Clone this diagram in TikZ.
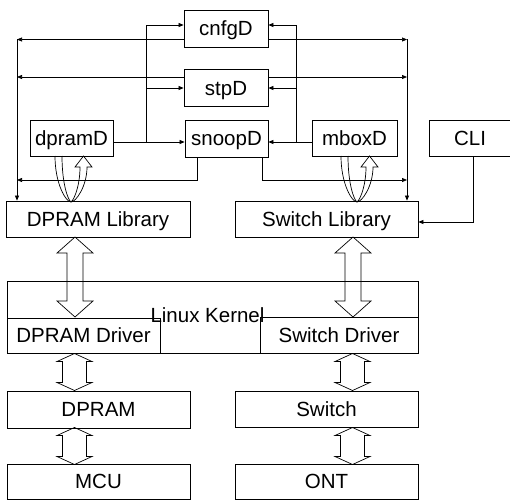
\documentclass[tikz,border=0pt]{standalone}
\usepackage{fontspec}
\setmainfont{Liberation Sans}
\usetikzlibrary{arrows.meta}
\tikzset{
  box/.style={draw, line width=0.8pt, inner sep=0pt, minimum height=36pt,
    text height=14.7pt, text depth=0pt, font=\fontsize{20.5}{24}\selectfont},
  conn/.style={line width=0.7pt, -{Triangle[length=5pt,width=4pt]}},
  uturn/.pic={
    \draw[line width=0.7pt] (-16,-46) .. controls (-16,-18) and (-5,0) .. (0,0)
      .. controls (5,0) and (16,-16) .. (16,-35) -- (21,-35) -- (12.5,-46) -- (4,-35) -- (9,-35)
      .. controls (9,-16) and (3,-2) .. (0,0)
      .. controls (-3,-2) and (-9,-18) .. (-9,-46);
  },
  bigarr/.pic={
    \draw[line width=0.7pt] (0,-40) -- (18,-24) -- (8,-24) -- (8,24) -- (18,24) -- (0,40)
      -- (-18,24) -- (-8,24) -- (-8,-24) -- (-18,-24) -- cycle;
  },
  smallarr/.pic={
    \draw[line width=0.7pt] (0,-18.5) -- (17.5,-10.5) -- (12,-10.5) -- (12,10.5) -- (17.5,10.5) -- (0,18.5)
      -- (-17.5,10.5) -- (-12,10.5) -- (-12,-10.5) -- (-17.5,-10.5) -- cycle;
  }
}
\begin{document}
\begin{tikzpicture}[x=1pt,y=-1pt]
\useasboundingbox (0,0) rectangle (510,500);

% daemons
\node[box, minimum width=84pt, minimum height=37pt] (cnfgD) at (226,28.5) {cnfgD};
\node[box, minimum width=84pt, minimum height=37pt] (stpD) at (226,88) {stpD};
\node[box, minimum width=83pt, minimum height=37pt] (snoopD) at (226.5,138.5) {snoopD};
\node[box, minimum width=83pt] (dpramD) at (71.5,138.5) {dpramD};
\node[box, minimum width=85pt] (mboxD) at (354.5,138) {mboxD};
\node[box, minimum width=82pt] (cli) at (470,138) {CLI};

% libraries
\node[box, minimum width=184pt] (dplib) at (98,219) {DPRAM Library};
\node[box, minimum width=183pt] (swlib) at (326.5,219) {Switch Library};

% kernel
\node[box, minimum width=411pt, minimum height=72pt] (kernel) at (212.5,317) {};
\node[box, minimum width=153pt, minimum height=35pt] (dpdrv) at (83.5,335.5) {DPRAM Driver};
\node[box, minimum width=158pt] (swdrv) at (339,335) {Switch Driver};
\node[box, draw=none] (kernlbl) at (207.5,315.5) {Linux Kernel};

% hardware
\node[box, minimum width=183pt, minimum height=37pt] (dpram) at (98.5,409.5) {DPRAM};
\node[box, minimum width=183pt] (swchip) at (326.5,409) {Switch};
\node[box, minimum width=183pt, minimum height=35pt] (mcu) at (98.5,481.5) {MCU};
\node[box, minimum width=183pt, minimum height=35pt] (ont) at (326.5,481.5) {ONT};

\coordinate (cnfgIn) at (226,25);
\coordinate (cnfgOut) at (226,39.5);
\coordinate (stpOut) at (226,77);
\coordinate (stpIn) at (226,88);
\coordinate (jl) at (146,142);
\coordinate (jr) at (296,142);
\coordinate (lbus) at (17,180);
\coordinate (rbus) at (407,180);

% dpramD
\draw[conn] (dpramD.east |- jl) -- (snoopD.west |- jl);
\draw[conn] (jl) |- (cnfgD.west |- cnfgIn);
\draw[conn] (jl |- stpIn) -- (stpD.west |- stpIn);
% mboxD
\draw[conn] (mboxD.west |- jr) -- (snoopD.east |- jr);
\draw[conn] (jr) |- (cnfgD.east |- cnfgIn);
\draw[conn] (jr |- stpIn) -- (stpD.east |- stpIn);
% to DPRAM Library
\draw[conn] (cnfgD.west |- cnfgOut) -- (lbus |- cnfgOut);
\draw[conn] (stpD.west |- stpOut) -- (lbus |- stpOut);
\draw[conn] ([xshift=-29.5pt]snoopD.south) |- (lbus);
\draw[conn] (lbus |- cnfgOut) -- (lbus |- dplib.north);
% to Switch Library
\draw[conn] (cnfgD.east |- cnfgOut) -- (rbus |- cnfgOut);
\draw[conn] (stpD.east |- stpOut) -- (rbus |- stpOut);
\draw[conn] ([xshift=35.5pt]snoopD.south) |- (rbus);
\draw[conn] (rbus |- cnfgOut) -- (rbus |- swlib.north);
% CLI
\draw[conn] ([xshift=3pt]cli.south) |- ([yshift=-3pt]swlib.east);

\pic at (71,202) {uturn};
\pic at (357,202) {uturn};

\pic at (75,277) {bigarr};
\pic at (353,277) {bigarr};
\pic at (74.5,372) {smallarr};
\pic at (74.5,446) {smallarr};
\pic at (352.5,372) {smallarr};
\pic at (352.5,446) {smallarr};
\end{tikzpicture}
\end{document}
